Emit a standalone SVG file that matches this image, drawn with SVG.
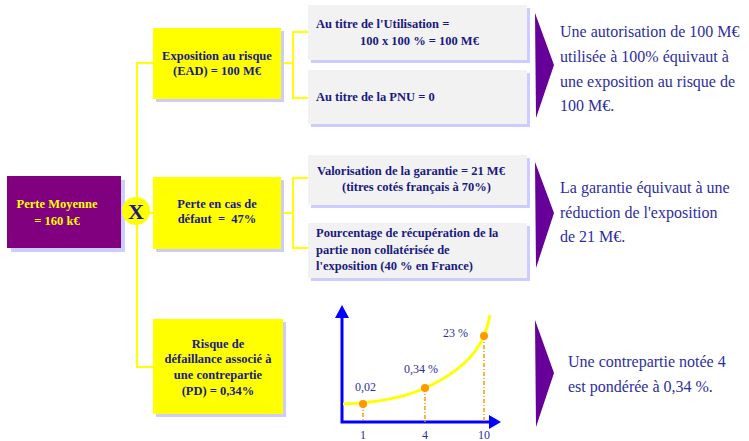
<svg xmlns="http://www.w3.org/2000/svg" width="749" height="441" viewBox="0 0 749 441">
<defs>
<style>
.yb{fill:#ffff00}
.sh{fill:#ccccff}
.gb{fill:#f2f2f2}
.con{fill:none;stroke:#ffff00;stroke-width:2}
.bt{font-family:"Liberation Serif",serif;font-weight:bold;font-size:12.5px;fill:#1a1a80}
.rt{font-family:"Liberation Serif",serif;font-size:16px;fill:#2e2e9e}
.ct{font-family:"Liberation Serif",serif;font-size:12px;fill:#2e2e9e}
.chev{fill:#660099}
.dash{stroke:#ff9900;stroke-width:1.5;stroke-dasharray:4 2 1 2;fill:none}
.dot{fill:#ff9900}
.ax{stroke:#0000ff;stroke-width:3;fill:none}
</style>
</defs>
<rect width="749" height="441" fill="#ffffff"/>
<g id="connectors">
<path class="con" d="M153,63 H137 V367 H153"/>
<path class="con" d="M137,213 H153"/>
<path class="con" d="M281,63 H293 M308,32 H293 V98 H308"/>
<path class="con" d="M281,213 H293 M308,178 H293 V248 H308"/>
</g>
<g id="perte-moyenne">
<rect class="sh" x="11" y="180" width="114" height="72"/>
<rect x="7" y="176" width="114" height="72" fill="#800080"/>
<text font-family="Liberation Serif,serif" font-weight="bold" font-size="12.5" fill="#ffff00" text-anchor="middle"><tspan x="57" y="208">Perte Moyenne</tspan><tspan x="57" y="225">= 160 k€</tspan></text>
</g>
<g id="multiply">
<circle cx="136" cy="211" r="14" fill="#ffff00"/>
<text x="136" y="219" text-anchor="middle" font-family="Liberation Serif,serif" font-weight="bold" font-size="22" fill="#1a1a80">X</text>
</g>
<g id="ead">
<rect class="sh" x="156" y="31" width="128" height="71"/>
<rect class="yb" x="153" y="28" width="128" height="71"/>
<text class="bt" text-anchor="middle"><tspan x="217" y="60">Exposition au risque</tspan><tspan x="217" y="75">(EAD) = 100 M€</tspan></text>
</g>
<g id="lgd">
<rect class="sh" x="156" y="180" width="128" height="72"/>
<rect class="yb" x="153" y="177" width="128" height="72"/>
<text class="bt" text-anchor="middle"><tspan x="217" y="208">Perte en cas de</tspan><tspan x="217" y="223" xml:space="preserve">défaut  =  47%</tspan></text>
</g>
<g id="pd">
<rect class="sh" x="156" y="322" width="130" height="95"/>
<rect class="yb" x="153" y="319" width="130" height="95"/>
<text class="bt" text-anchor="middle"><tspan x="218" y="348">Risque de</tspan><tspan x="218" y="363">défaillance associé à</tspan><tspan x="218" y="379">une contrepartie</tspan><tspan x="218" y="395">(PD) = 0,34%</tspan></text>
</g>
<g id="utilisation">
<rect class="sh" x="311" y="8" width="219" height="55"/>
<rect class="gb" x="308" y="5" width="219" height="55"/>
<text class="bt"><tspan x="316" y="28">Au titre de l'Utilisation =</tspan><tspan x="360" y="45">100 x 100 % = 100 M€</tspan></text>
</g>
<g id="pnu">
<rect class="sh" x="311" y="73" width="219" height="54"/>
<rect class="gb" x="308" y="70" width="219" height="54"/>
<text class="bt" x="316" y="101">Au titre de la PNU = 0</text>
</g>
<g id="garantie">
<rect class="sh" x="311" y="158" width="219" height="50"/>
<rect class="gb" x="308" y="155" width="219" height="50"/>
<text class="bt"><tspan x="317" y="175">Valorisation de la garantie = 21 M€</tspan><tspan x="342" y="191">(titres cotés français à 70%)</tspan></text>
</g>
<g id="recuperation">
<rect class="sh" x="311" y="226" width="219" height="55"/>
<rect class="gb" x="308" y="223" width="219" height="55"/>
<text class="bt"><tspan x="316" y="237">Pourcentage de récupération de la</tspan><tspan x="316" y="254">partie non collatérisée de</tspan><tspan x="316" y="270">l'exposition (40 % en France)</tspan></text>
</g>
<g id="chart">
<path class="ax" d="M342,312 V422 H494"/>
<polygon points="342,305 335,318 349,318" fill="#0000ff"/>
<polygon points="501,422 489,415 489,429" fill="#0000ff"/>
<path d="M343,404 Q395,402 425,388 Q470,368 484,336 Q488,326 490,315" fill="none" stroke="#ffff00" stroke-width="3"/>
<path class="dash" d="M363,404 V422 M425,388 V422 M484,336 V422"/>
<circle class="dot" cx="363" cy="404" r="4"/>
<circle class="dot" cx="425" cy="388" r="4"/>
<circle class="dot" cx="484" cy="336" r="4"/>
<text class="ct" x="355" y="391">0,02</text>
<text class="ct" x="404" y="373">0,34 %</text>
<text class="ct" x="443" y="337">23 %</text>
<text class="ct" x="363" y="439" text-anchor="middle">1</text>
<text class="ct" x="425" y="439" text-anchor="middle">4</text>
<text class="ct" x="484" y="439" text-anchor="middle">10</text>
</g>
<g id="note-ead">
<polygon class="chev" points="535,13 554,65 536,118"/>
<text class="rt"><tspan x="560" y="37">Une autorisation de 100 M€</tspan><tspan x="560" y="62">utilisée à 100% équivaut à</tspan><tspan x="560" y="87">une exposition au risque de</tspan><tspan x="560" y="111">100 M€.</tspan></text>
</g>
<g id="note-lgd">
<polygon class="chev" points="535,162 554,213 536,268"/>
<text class="rt"><tspan x="560" y="193">La garantie équivaut à une</tspan><tspan x="560" y="218">réduction de l'exposition</tspan><tspan x="560" y="242">de 21 M€.</tspan></text>
</g>
<g id="note-pd">
<polygon class="chev" points="535,320 554,373 536,427"/>
<text class="rt"><tspan x="568" y="367">Une contrepartie notée 4</tspan><tspan x="568" y="392">est pondérée à 0,34 %.</tspan></text>
</g>
</svg>
